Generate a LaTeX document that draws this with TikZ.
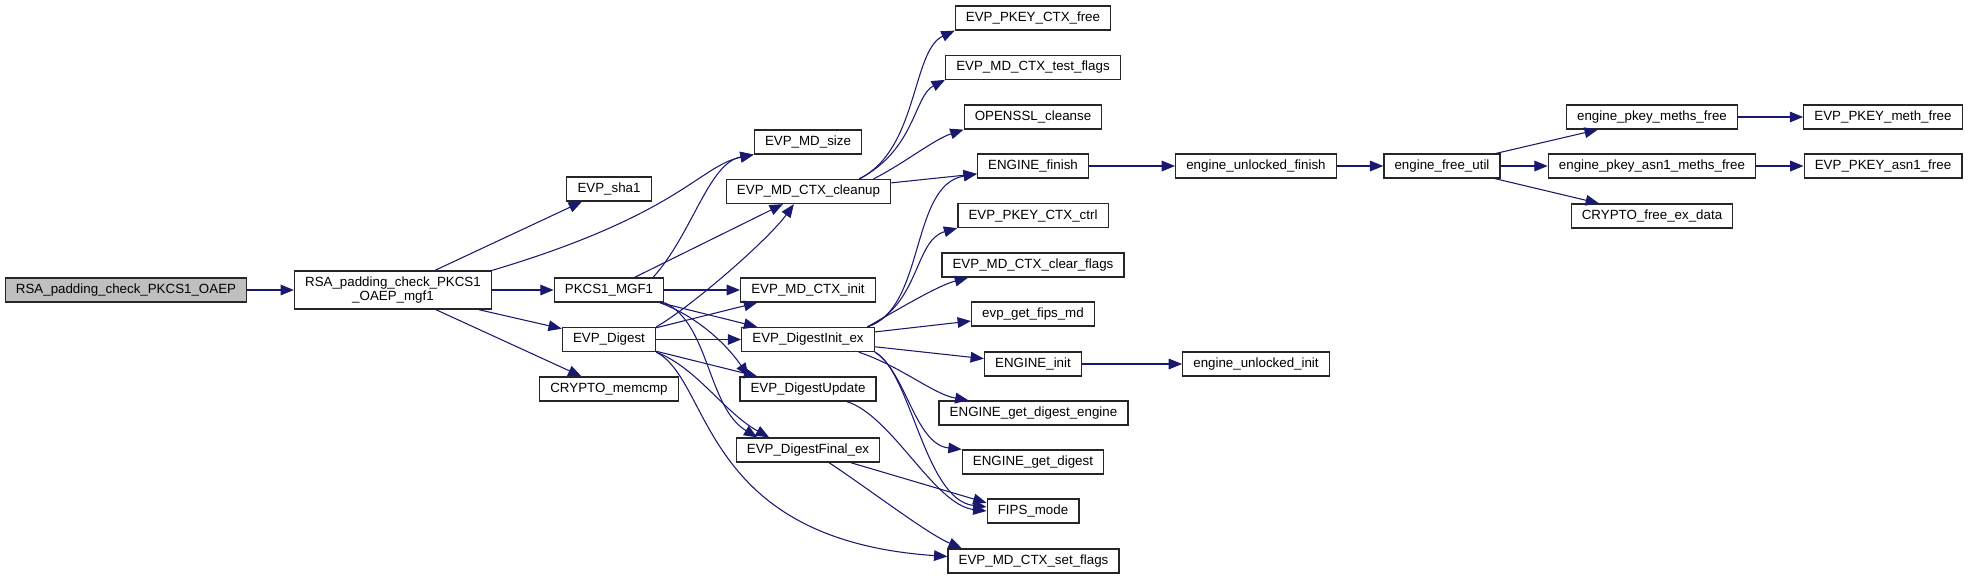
\documentclass[tikz,border=0pt]{standalone}
\usepackage{fontspec}
\setmainfont{Liberation Sans}
\definecolor{edgeblue}{RGB}{25, 25, 112}
\definecolor{rootgray}{RGB}{191, 191, 191}
\usepackage{tikz}
\usetikzlibrary{arrows.meta, positioning, calc}

\begin{document}
\begin{tikzpicture}[x=0.75pt, y=-0.75pt,
  fnbox/.style={draw=black!85, line width=0.95pt, fill=white, font=\fontsize{10}{10.5}\selectfont, inner xsep=8pt, inner ysep=0pt, minimum height=18pt},
  rootbox/.style={fnbox, fill=rootgray},
  call/.style={draw=edgeblue, line width=0.8pt, -{Triangle[length=10pt, width=8pt]}}]
  \useasboundingbox (0,0) rectangle (1968,579);

  \node[rootbox] (oaep) at (126,290) {RSA\_padding\_check\_PKCS1\_OAEP};
  \node[fnbox, align=center, minimum height=28.5pt] (mgf1) at (393,290) {RSA\_padding\_check\_PKCS1\\\_OAEP\_mgf1};

  \node[fnbox] (sha1) at (609,189) {EVP\_sha1};
  \node[fnbox] (pkcs) at (609,290) {PKCS1\_MGF1};
  \node[fnbox] (digest) at (609,339.5) {EVP\_Digest};
  \node[fnbox] (memcmp) at (609,389) {CRYPTO\_memcmp};

  \node[fnbox] (mdsize) at (808,142) {EVP\_MD\_size};
  \node[fnbox] (cleanup) at (808.5,191.5) {EVP\_MD\_CTX\_cleanup};
  \node[fnbox] (ctxinit) at (808,290) {EVP\_MD\_CTX\_init};
  \node[fnbox] (dinit) at (808,339.5) {EVP\_DigestInit\_ex};
  \node[fnbox] (dupdate) at (808,389) {EVP\_DigestUpdate};
  \node[fnbox] (dfinal) at (808,450) {EVP\_DigestFinal\_ex};

  \node[fnbox] (pkeyfree) at (1033,18) {EVP\_PKEY\_CTX\_free};
  \node[fnbox] (testflags) at (1033,67.5) {EVP\_MD\_CTX\_test\_flags};
  \node[fnbox] (cleanse) at (1033,117) {OPENSSL\_cleanse};
  \node[fnbox] (efinish) at (1033,166) {ENGINE\_finish};
  \node[fnbox] (pkeyctrl) at (1033,215.5) {EVP\_PKEY\_CTX\_ctrl};
  \node[fnbox] (clearflags) at (1033,265) {EVP\_MD\_CTX\_clear\_flags};
  \node[fnbox] (fipsmd) at (1033,314) {evp\_get\_fips\_md};
  \node[fnbox] (einit) at (1033,364) {ENGINE\_init};
  \node[fnbox] (getdigeng) at (1033.5,413) {ENGINE\_get\_digest\_engine};
  \node[fnbox] (getdig) at (1033,462) {ENGINE\_get\_digest};
  \node[fnbox] (fips) at (1033,511) {FIPS\_mode};
  \node[fnbox] (setflags) at (1033.5,561) {EVP\_MD\_CTX\_set\_flags};

  \node[fnbox] (unlfinish) at (1256,166) {engine\_unlocked\_finish};
  \node[fnbox] (unlinit) at (1256,364) {engine\_unlocked\_init};
  \node[fnbox] (freeutil) at (1442,166) {engine\_free\_util};
  \node[fnbox] (pkeymeths) at (1652,117) {engine\_pkey\_meths\_free};
  \node[fnbox] (asn1meths) at (1652,166) {engine\_pkey\_asn1\_meths\_free};
  \node[fnbox] (freeexdata) at (1652,216) {CRYPTO\_free\_ex\_data};
  \node[fnbox] (methfree) at (1883,117) {EVP\_PKEY\_meth\_free};
  \node[fnbox] (asn1free) at (1883,166) {EVP\_PKEY\_asn1\_free};

  \draw[call] (oaep) -- (mgf1);
  \draw[call] (mgf1) -- (sha1);
  \draw[call] (mgf1.north east) .. controls +(188,-56) and +(-54,11) .. (mdsize.south west);
  \draw[call] (mgf1) -- (pkcs);
  \draw[call] (mgf1) -- (digest);
  \draw[call] (mgf1) -- (memcmp);

  \draw[call] (pkcs.16) .. controls +(39,-43) and +(-45,8) .. (mdsize.south west);
  \draw[call] (pkcs) -- (cleanup);
  \draw[call] (pkcs) -- (ctxinit);
  \draw[call] (pkcs) -- (dinit);
  \draw[call] (pkcs.-14) .. controls +(38,14) and +(-22,-32) .. (dupdate.168);
  \draw[call] (pkcs.south east) .. controls +(45,20) and +(-50,-30) .. (dfinal.166);

  \draw[call] (digest.north east) .. controls +(35,-20) and +(-25,35) .. ([xshift=-11pt]cleanup.south);
  \draw[call] (digest) -- (ctxinit);
  \draw[call] (digest) -- (dinit);
  \draw[call] (digest) -- (dupdate);
  \draw[call] (digest.south east) .. controls +(40,15) and +(-45,-25) .. (dfinal.162);
  \draw[call] (digest.south east) .. controls +(56,29) and +(-248,-17) .. (setflags.177);

  \draw[call] (cleanup.14) .. controls +(59,-29) and +(-43,20) .. (pkeyfree.south west);
  \draw[call] (cleanup.14) .. controls +(56,-29) and +(-31,16) .. (testflags.188);
  \draw[call] (cleanup.11) .. controls +(30,-15) and +(-30,10) .. (cleanse.south west);
  \draw[call] (cleanup) -- (efinish.188);

  \draw[call] (dinit.12) .. controls +(58,-18) and +(-67,11) .. (efinish.188);
  \draw[call] (dinit.12) .. controls +(53,-23) and +(-43,12) .. (pkeyctrl.south west);
  \draw[call] (dinit.12) .. controls +(35,-20) and +(-30,8) .. (clearflags.191);
  \draw[call] (dinit) -- (fipsmd);
  \draw[call] (dinit) -- (einit);
  \draw[call] (dinit.-14) .. controls +(42,14) and +(-35,-6) .. (getdigeng.169);
  \draw[call] (dinit.south east) .. controls +(31,19) and +(-47,-5) .. (getdig.north west);
  \draw[call] (dinit.south east) .. controls +(36,19) and +(-62,-7) .. (fips.175);

  \draw[call] (dupdate.-18) .. controls +(45,14) and +(-52,-6) .. (fips.west);
  \draw[call] (dfinal) -- (fips.170);
  \draw[call] (dfinal.-31) .. controls +(45,30) and +(-35,-15) .. (setflags.170);

  \draw[call] (efinish) -- (unlfinish);
  \draw[call] (unlfinish) -- (freeutil);
  \draw[call] (freeutil) -- (pkeymeths);
  \draw[call] (freeutil) -- (asn1meths);
  \draw[call] (freeutil) -- (freeexdata);
  \draw[call] (pkeymeths) -- (methfree);
  \draw[call] (asn1meths) -- (asn1free);
  \draw[call] (einit) -- (unlinit);
\end{tikzpicture}
\end{document}
